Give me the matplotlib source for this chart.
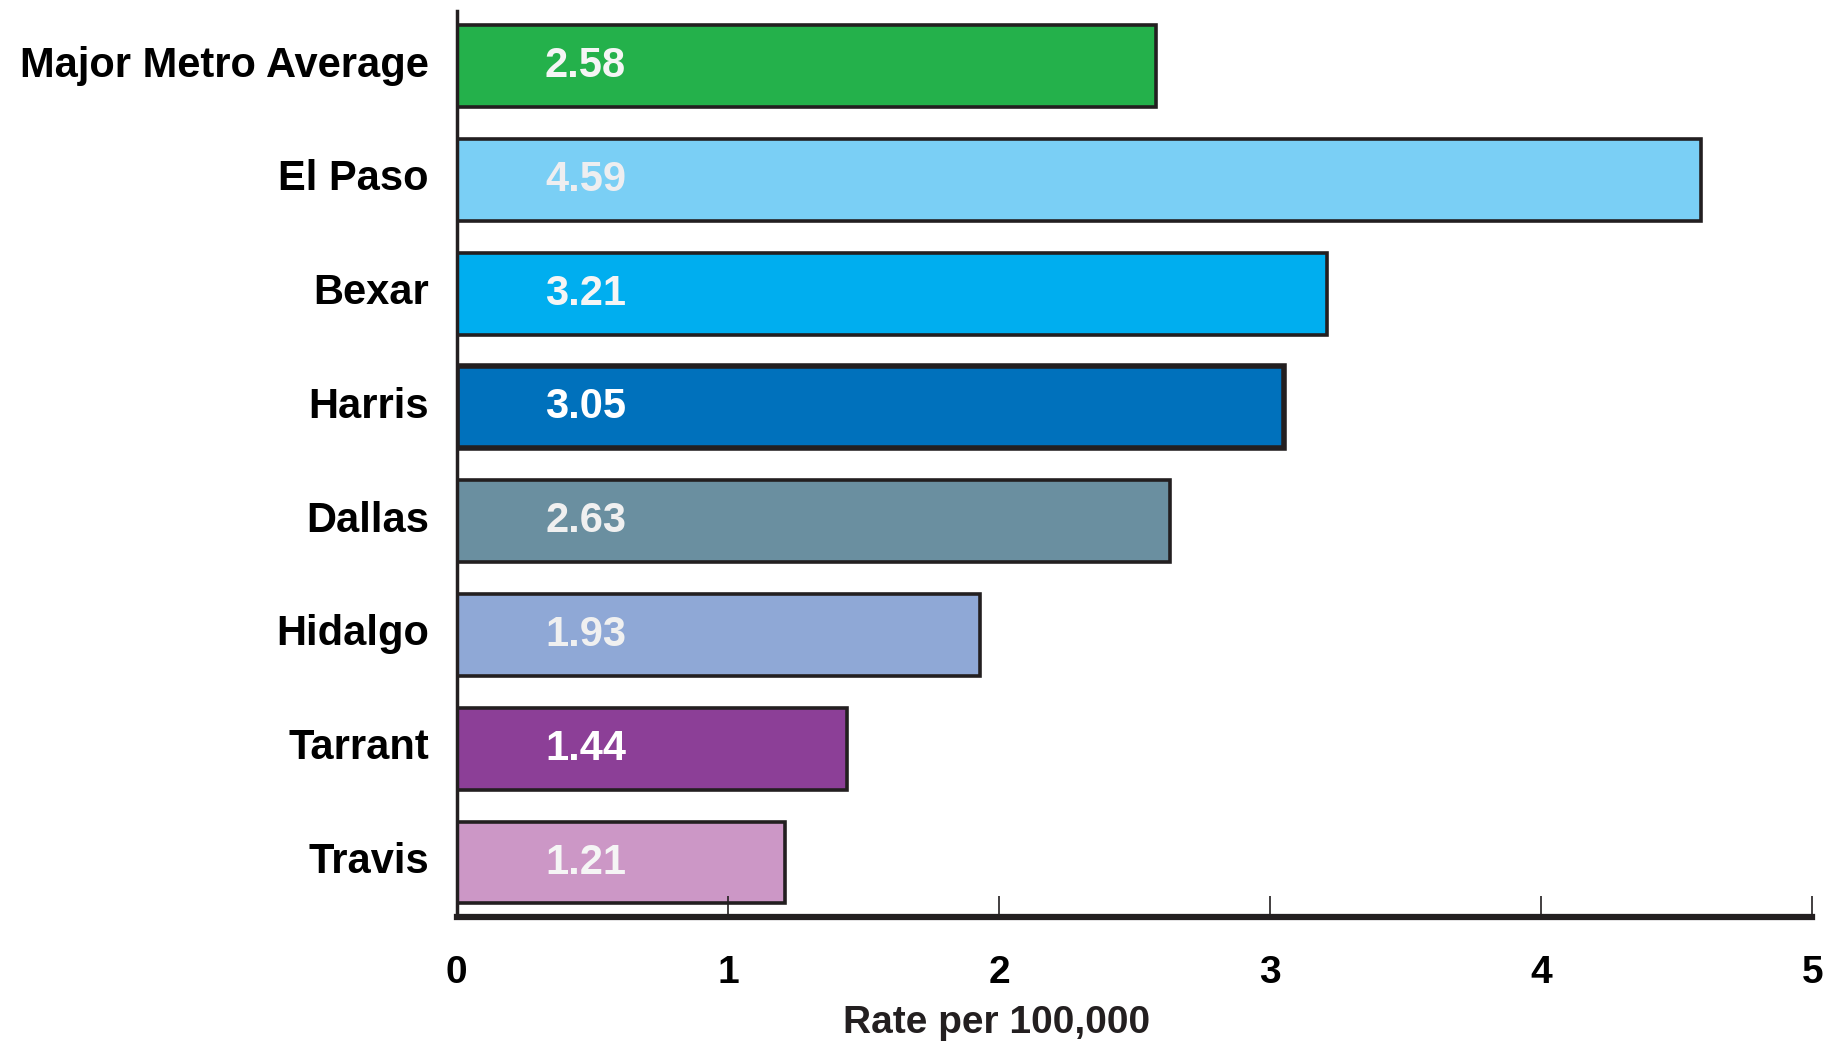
import matplotlib.pyplot as plt
import matplotlib.transforms as mtransforms

plt.rcParams['font.family'] = ['Liberation Sans', 'DejaVu Sans']

# Data
counties = ["Major Metro Average", "El Paso", "Bexar", "Harris", "Dallas",
            "Hidalgo", "Tarrant", "Travis"]
rates = [2.58, 4.59, 3.21, 3.05, 2.63, 1.93, 1.44, 1.21]
colors = ["#24B14B", "#7ACFF5", "#00AEEF", "#0071BC", "#6A8FA0",
          "#8FA8D6", "#8C3F97", "#CC97C6"]
text_colors = ["#F5F5F5", "#EEEEF0", "#F5F5F5", "#FFFFFF", "#F0F0F0",
               "#F0F0F0", "#FFFFFF", "#F5F5F5"]
ticks = [0, 1, 2, 3, 4, 5]

fig = plt.figure(figsize=(18.27, 10.41), dpi=100)
ax = fig.add_axes([0.250, 0.119, 0.742, 0.870])

pos = list(range(len(counties)))
bars = ax.barh(pos, rates, height=0.72, color=colors,
               edgecolor="#231F20", linewidth=2.6)
# Harris has a heavier outline
bars[3].set_linewidth(4.0)

for i, (v, tc) in enumerate(zip(rates, text_colors)):
    ax.text(0.475, i, f"{v:.2f}", ha="center", va="center",
            fontsize=30, fontweight="bold", color=tc)

ax.set_ylim(7.48, -0.48)
ax.set_xlim(0, 5)
ax.set_yticks(pos)
ax.set_yticklabels(counties, fontsize=30, fontweight="bold")
ax.tick_params(axis="y", length=0, pad=20)
# nudge the county names up a little
offset = mtransforms.ScaledTranslation(0, 0.05, fig.dpi_scale_trans)
for lab in ax.get_yticklabels():
    lab.set_transform(lab.get_transform() + offset)

ax.set_xticks(ticks)
ax.set_xticklabels([str(t) for t in ticks], fontsize=28, fontweight="bold")
ax.tick_params(axis="x", direction="in", length=15, width=1.2,
               color="#231F20", pad=27)

ax.set_xlabel("Rate per 100,000", fontsize=28, fontweight="bold",
              color="#231F20")
ax.xaxis.set_label_coords(0.398, -0.097)

for s in ["top", "right"]:
    ax.spines[s].set_visible(False)
ax.spines["bottom"].set_linewidth(4.5)
ax.spines["bottom"].set_color("#231F20")
ax.spines["left"].set_linewidth(2.5)
ax.spines["left"].set_color("#231F20")

fig.savefig("out.png", dpi=100)
